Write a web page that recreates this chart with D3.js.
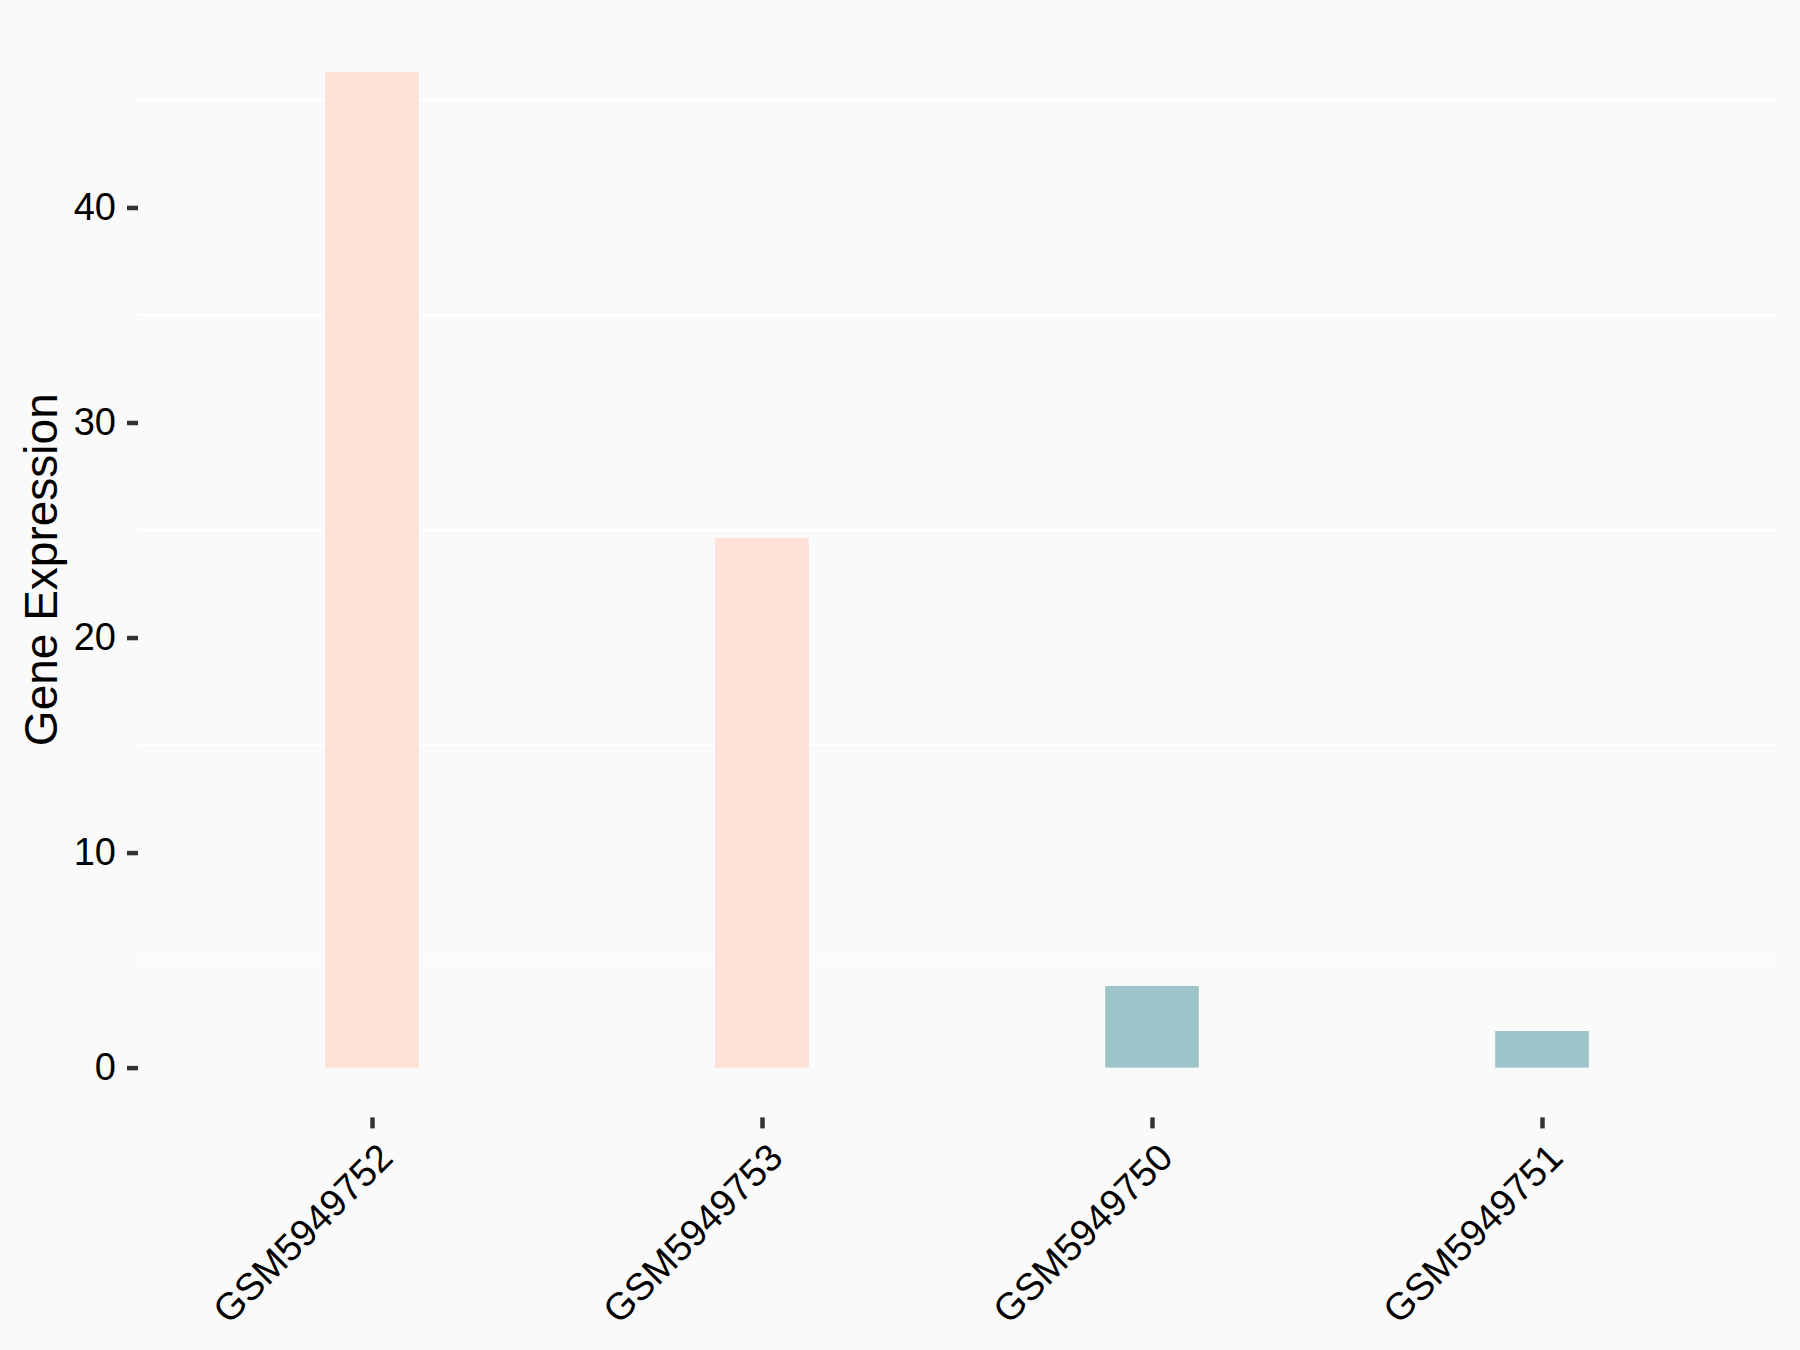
<!DOCTYPE html>
<html>
<head>
<meta charset="utf-8">
<script src="https://cdn.jsdelivr.net/npm/d3@7"></script>
<style>
  html, body { margin: 0; padding: 0; background: #FAFAFA; }
  svg { display: block; }
  text { font-family: "Liberation Sans", Arial, sans-serif; }
</style>
</head>
<body>
<svg id="chart" width="1800" height="1350"></svg>
<script>
const categories = ["GSM5949752", "GSM5949753", "GSM5949750", "GSM5949751"];
const values = [46.31, 24.63, 3.80, 1.70];
const groups = ["high", "high", "low", "low"];
const yTicks = [0, 10, 20, 30, 40];
const yMinorTicks = [5, 15, 25, 35, 45];
const groupColors = { high: "#FEE1D7", low: "#9DC4C8" };

const W = 1800, H = 1350;
const panel = { left: 138, right: 1776, top: 22, bottom: 1117.4 };

const svg = d3.select("#chart");
svg.append("rect").attr("width", W).attr("height", H).attr("fill", "#FAFAFA");

const yMax = d3.max(values);
const pad = yMax * 0.05;
const y = d3.scaleLinear().domain([-pad, yMax + pad]).range([panel.bottom, panel.top]);
const x = d3.scalePoint().domain(categories).range([panel.left, panel.right]).padding(0.6);
const barW = x.step() * 0.24;

// minor gridlines
svg.append("g").selectAll("line").data(yMinorTicks).join("line")
  .attr("x1", panel.left).attr("x2", panel.right)
  .attr("y1", d => y(d)).attr("y2", d => y(d))
  .attr("stroke", "#FFFFFF").attr("stroke-width", 2);

// bars
const data = categories.map((c, i) => ({ c, v: values[i], g: groups[i] }));
svg.append("g").selectAll("rect").data(data).join("rect")
  .attr("x", d => x(d.c) - barW / 2)
  .attr("width", barW)
  .attr("y", d => y(d.v))
  .attr("height", d => y(0) - y(d.v))
  .attr("fill", d => groupColors[d.g]);

// y axis
const yAxis = d3.axisLeft(y).tickValues(yTicks).tickSize(11).tickPadding(11);
const gy = svg.append("g").attr("transform", `translate(${panel.left},0)`).call(yAxis);
gy.select(".domain").remove();
gy.selectAll(".tick line").attr("stroke", "#333333").attr("stroke-width", 4.5);
gy.selectAll(".tick text").attr("fill", "#000000").style("font-size", "38px")
  .style("font-family", '"Liberation Sans", Arial, sans-serif');

// x axis
const xAxis = d3.axisBottom(x).tickSize(11).tickPadding(0);
const gx = svg.append("g").attr("transform", `translate(0,${panel.bottom})`).call(xAxis);
gx.select(".domain").remove();
gx.selectAll(".tick line").attr("stroke", "#333333").attr("stroke-width", 4.5);
gx.selectAll(".tick text")
  .attr("fill", "#000000")
  .style("font-size", "38px")
  .style("font-family", '"Liberation Sans", Arial, sans-serif')
  .attr("text-anchor", "end")
  .attr("x", 0).attr("y", 0).attr("dy", "0.72em")
  .attr("transform", "translate(3,23) rotate(-45)");

// y title
svg.append("text")
  .attr("transform", `translate(57,${(panel.top + panel.bottom) / 2}) rotate(-90)`)
  .attr("text-anchor", "middle")
  .attr("fill", "#000000")
  .style("font-size", "46px")
  .text("Gene Expression");
</script>
</body>
</html>
